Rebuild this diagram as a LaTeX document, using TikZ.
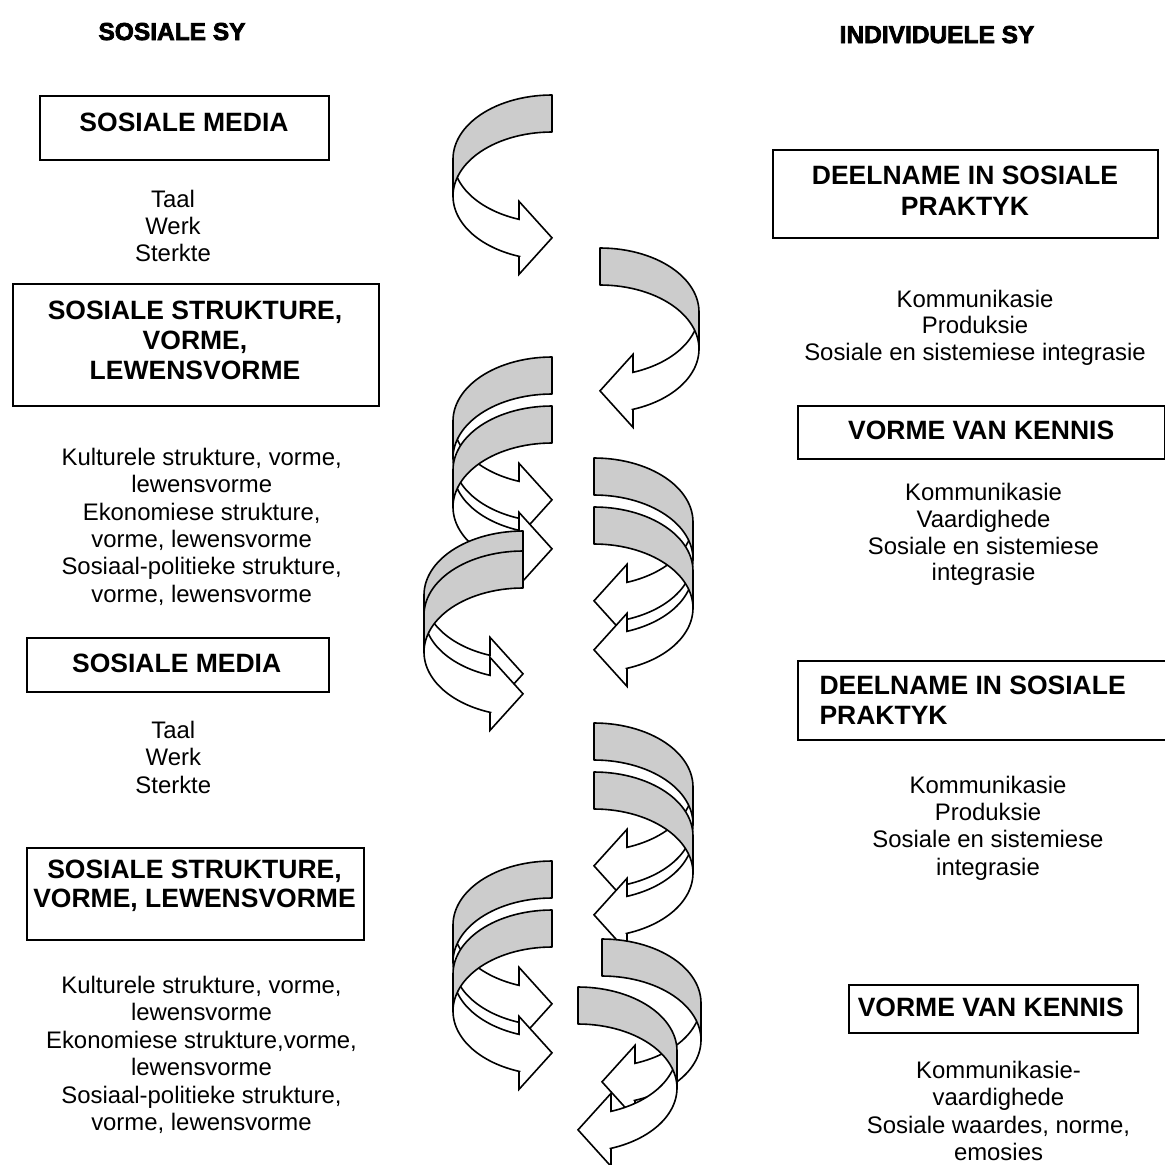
\documentclass[tikz,border=0pt]{standalone}
\usepackage{fontspec}
\setmainfont{Liberation Sans}
\newfontfamily\headfont[FakeBold=3]{Liberation Sans Bold}
\definecolor{bandgray}{RGB}{204,204,204}

% size of one twisted band arrow
\def\banda{99}   % horizontal radius of the turn
\def\bandb{64}   % vertical radius of the turn
\def\bandt{37}   % band thickness
\def\headh{18}   % overhang of the arrow head beyond the band

\tikzset{
  panel/.style={draw=black, line width=1.8pt, inner sep=0pt, anchor=north west},
  title/.style={font=\fontsize{26.5}{30}\selectfont\bfseries, inner sep=0pt, align=center, anchor=north},
  body/.style={font=\fontsize{23.9}{27.4}\selectfont, inner sep=0pt, align=center, anchor=north},
  heading/.style={font=\fontsize{24.5}{28}\selectfont\headfont, inner sep=0pt, anchor=base},
  backband/.style={draw=black, line width=1.6pt, fill=bandgray, line join=round},
  frontband/.style={draw=black, line width=1.6pt, fill=white, line join=miter},
}

% #1 x of the flat end, #2 top of the band, #3 side of the turn (1 right, -1 left)
\newcommand\helixarrow[3]{%
  \pgfmathsetmacro\tcA{#2+\bandb}%
  \pgfmathsetmacro\tcB{#2+\bandb+\bandt}%
  \pgfmathsetmacro\tbx{#1+(#3)*\banda/3}%
  \pgfmathsetmacro\tyA{\tcA+0.9428*\bandb}%
  \pgfmathsetmacro\tyB{\tcB+0.9428*\bandb}%
  \pgfmathsetmacro\tyT{(\tyA+\tyB)/2}%
  \draw[frontband]
    plot[domain=90:160.53, samples=30, variable=\u] ({#1+(#3)*\banda*sin(\u)},{\tcA-\bandb*cos(\u)})
    -- (\tbx,\tyA-\headh) -- (#1,\tyT) -- (\tbx,\tyB+\headh) -- (\tbx,\tyB)
    -- plot[domain=160.53:90, samples=30, variable=\u] ({#1+(#3)*\banda*sin(\u)},{\tcB-\bandb*cos(\u)})
    -- cycle;
  \draw[backband]
    plot[domain=0:90, samples=30, variable=\u] ({#1+(#3)*\banda*sin(\u)},{\tcA-\bandb*cos(\u)})
    -- plot[domain=90:0, samples=30, variable=\u] ({#1+(#3)*\banda*sin(\u)},{\tcB-\bandb*cos(\u)})
    -- cycle;
}

\begin{document}
\begin{tikzpicture}[x=1pt, y=-1pt]
\useasboundingbox (0,0) rectangle (1165,1165);
\clip (0,0) rectangle (1165,1165);
\fill[white] (0,0) rectangle (1165,1165);

% column headings
\node[heading] (hl) at (172,40) {SOSIALE SY};
\node[heading] (hr) at (937,43) {INDIVIDUELE SY};

% social side
\node[panel, minimum width=289pt, minimum height=64pt] (b1) at (39.3,95) {};
\node[title] (b1t) at (184,112.7) {SOSIALE MEDIA};
\node[body] (t1) at (173,189.5) {Taal\\Werk\\Sterkte};

\node[panel, minimum width=365.4pt, minimum height=122.3pt] (b2) at (12.3,282.7) {};
\node[title] (b2t) at (195,301) {SOSIALE STRUKTURE,\\VORME,\\LEWENSVORME};
\node[body] (t2) at (201.7,447.8) {Kulturele strukture, vorme,\\lewensvorme\\Ekonomiese strukture,\\vorme, lewensvorme\\Sosiaal-politieke strukture,\\vorme, lewensvorme};

\node[panel, minimum width=302pt, minimum height=53.7pt] (b3) at (25.7,637.3) {};
\node[title] (b3t) at (176.7,653.7) {SOSIALE MEDIA};
\node[body] (t3) at (173.3,721) {Taal\\Werk\\Sterkte};

\node[panel, minimum width=337pt, minimum height=92.3pt] (b4) at (25.7,846.7) {};
\node[title, font=\fontsize{26.5}{29}\selectfont\bfseries] (b4t) at (194.5,859.3) {SOSIALE STRUKTURE,\\VORME, LEWENSVORME};
\node[body] (t4) at (201.5,976) {Kulturele strukture, vorme,\\lewensvorme\\Ekonomiese strukture,vorme,\\lewensvorme\\Sosiaal-politieke strukture,\\vorme, lewensvorme};

% individual side
\node[panel, minimum width=385pt, minimum height=88.3pt] (b5) at (772.3,149) {};
\node[title, font=\fontsize{26.5}{31}\selectfont\bfseries] (b5t) at (965,166) {DEELNAME IN SOSIALE\\PRAKTYK};
\node[body, font=\fontsize{23.9}{26.8}\selectfont] (t5) at (975,289.5) {Kommunikasie\\Produksie\\Sosiale en sistemiese integrasie};

\node[panel, minimum width=367pt, minimum height=53.3pt] (b6) at (797.3,405) {};
\node[title] (b6t) at (981.2,421) {VORME VAN KENNIS};
\node[body, font=\fontsize{23.9}{26.8}\selectfont] (t6) at (983.5,483) {Kommunikasie\\Vaardighede\\Sosiale en sistemiese\\integrasie};

\node[panel, minimum width=390pt, minimum height=79.3pt] (b7) at (796.7,660) {};
\node[title, align=left, anchor=north west] (b7t) at (819.3,676) {DEELNAME IN SOSIALE\\PRAKTYK};
\node[body, font=\fontsize{23.9}{27.2}\selectfont] (t7) at (988,776) {Kommunikasie\\Produksie\\Sosiale en sistemiese\\integrasie};

\node[panel, minimum width=289pt, minimum height=48.3pt] (b8) at (847.7,984) {};
\node[title] (b8t) at (990.8,997.7) {VORME VAN KENNIS};
\node[body] (t8) at (998.5,1061) {Kommunikasie-\\vaardighede\\Sosiale waardes, norme,\\emosies};

% twisted band arrows down the middle
\helixarrow{552}{95}{-1}
\helixarrow{600}{248}{1}
\helixarrow{552}{357}{-1}
\helixarrow{552}{406}{-1}
\helixarrow{594}{458}{1}
\helixarrow{594}{507}{1}
\helixarrow{523}{531}{-1}
\helixarrow{523}{551}{-1}
\helixarrow{594}{723}{1}
\helixarrow{594}{772}{1}
\helixarrow{552}{861}{-1}
\helixarrow{552}{910}{-1}
\helixarrow{602}{939}{1}
\helixarrow{578}{987}{1}
\end{tikzpicture}
\end{document}
